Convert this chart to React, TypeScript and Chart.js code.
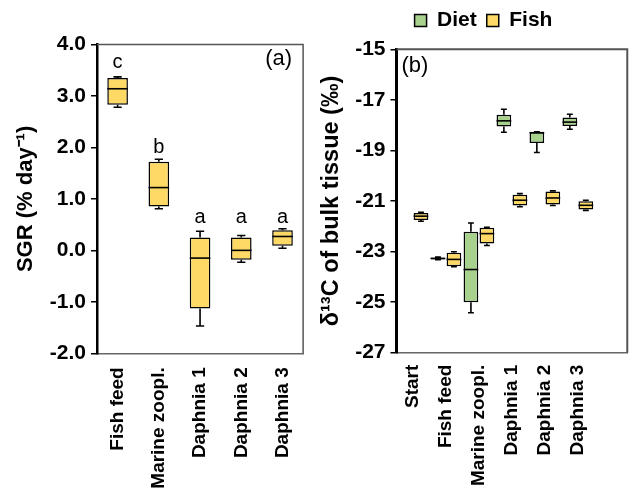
import React, { useEffect, useRef } from 'react';
import { Chart, registerables } from 'chart.js';

Chart.register(...registerables);

const FONT = "'Liberation Sans', Arial, Helvetica, sans-serif";
Chart.defaults.font.family = FONT;
Chart.defaults.color = '#000';

const FISH_COLOR = '#FFD966';
const DIET_COLOR = '#A9D18E';

// ---------- Panel (a): SGR ----------
const sgrCategories = ['Fish feed', 'Marine zoopl.', 'Daphnia 1', 'Daphnia 2', 'Daphnia 3'];
const sgrMin = [2.78, 0.81, -1.47, -0.23, 0.04];
const sgrQ1 = [2.83, 0.85, -1.13, -0.18, 0.09];
const sgrMedian = [3.14, 1.22, -0.15, 0.0, 0.27];
const sgrQ3 = [3.35, 1.72, 0.25, 0.25, 0.39];
const sgrMax = [3.37, 1.77, 0.37, 0.29, 0.42];
const sgrLetters = ['c', 'b', 'a', 'a', 'a'];
const sgrLetterY = [3.66, 2.0, 0.63, 0.63, 0.63];
const sgrTicks = [-2, -1, 0, 1, 2, 3, 4];

// ---------- Panel (b): d13C ----------
const d13cCategories = ['Start', 'Fish feed', 'Marine zoopl.', 'Daphnia 1', 'Daphnia 2', 'Daphnia 3'];
const dietMin = [null, -23.32, -25.42, -18.28, -19.08, -18.16];
const dietQ1 = [null, -23.31, -25.0, -18.05, -18.71, -18.03];
const dietMedian = [null, -23.27, -23.71, -17.83, -18.3, -17.88];
const dietQ3 = [null, -23.24, -22.22, -17.59, -18.28, -17.7];
const dietMax = [null, -23.22, -21.87, -17.37, -18.26, -17.57];
const fishMin = [-21.8, -23.6, -22.76, -21.23, -21.18, -21.37];
const fishQ1 = [-21.75, -23.58, -22.68, -21.18, -21.14, -21.34];
const fishMedian = [-21.6, -23.31, -22.29, -20.97, -20.88, -21.17];
const fishQ3 = [-21.47, -23.05, -22.06, -20.75, -20.62, -21.01];
const fishMax = [-21.45, -23.01, -22.04, -20.71, -20.6, -20.97];
const d13cTicks = [-27, -25, -23, -21, -19, -17, -15];

const boxPlugin = {
  id: 'boxWhiskers',
  afterDatasetsDraw(chart: any) {
    const ctx = chart.ctx;
    const ys = chart.scales.y;
    chart.data.datasets.forEach((ds: any, di: number) => {
      const meta = chart.getDatasetMeta(di);
      const st = ds.stats;
      if (!st) return;
      meta.data.forEach((el: any, i: number) => {
        if (ds.data[i] == null) return;
        const x = el.x;
        const half = el.width / 2;
        const cap = el.width * 0.2;
        const pMin = ys.getPixelForValue(st.min[i]);
        const pQ1 = ys.getPixelForValue(st.q1[i]);
        const pMed = ys.getPixelForValue(st.med[i]);
        const pQ3 = ys.getPixelForValue(st.q3[i]);
        const pMax = ys.getPixelForValue(st.max[i]);
        ctx.save();
        ctx.strokeStyle = '#000';
        ctx.lineWidth = 1.6;
        ctx.beginPath();
        ctx.moveTo(x, pQ3);
        ctx.lineTo(x, pMax);
        ctx.moveTo(x - cap, pMax);
        ctx.lineTo(x + cap, pMax);
        ctx.moveTo(x, pQ1);
        ctx.lineTo(x, pMin);
        ctx.moveTo(x - cap, pMin);
        ctx.lineTo(x + cap, pMin);
        ctx.stroke();
        ctx.beginPath();
        ctx.moveTo(x - half, pMed);
        ctx.lineTo(x + half, pMed);
        ctx.stroke();
        ctx.restore();
      });
    });
  },
};

const framePlugin = {
  id: 'frame',
  afterDraw(chart: any, _args: any, opts: any) {
    const { ctx, chartArea } = chart;
    ctx.save();
    ctx.strokeStyle = opts.color || '#555';
    ctx.lineWidth = opts.width || 1.5;
    ctx.beginPath();
    ctx.moveTo(chartArea.left, chartArea.top);
    ctx.lineTo(chartArea.right, chartArea.top);
    ctx.lineTo(chartArea.right, chartArea.bottom);
    ctx.stroke();
    ctx.restore();
    if (opts.text) {
      ctx.save();
      ctx.font = `${opts.size || 22}px ${FONT}`;
      ctx.fillStyle = '#000';
      ctx.textBaseline = 'middle';
      ctx.textAlign = opts.align;
      const x = opts.align === 'right' ? chartArea.right + opts.dx : chartArea.left + opts.dx;
      ctx.fillText(opts.text, x, chartArea.top + opts.dy);
      ctx.restore();
    }
  },
};

const lettersPlugin = {
  id: 'letters',
  afterDatasetsDraw(chart: any, _args: any, opts: any) {
    if (!opts.labels) return;
    const ctx = chart.ctx;
    const ys = chart.scales.y;
    const meta = chart.getDatasetMeta(0);
    ctx.save();
    ctx.font = `20px ${FONT}`;
    ctx.fillStyle = '#000';
    ctx.textAlign = 'center';
    ctx.textBaseline = 'middle';
    meta.data.forEach((el: any, i: number) => {
      ctx.fillText(opts.labels[i], el.x, ys.getPixelForValue(opts.values[i]));
    });
    ctx.restore();
  },
};

function yAxis(
  min: number,
  max: number,
  ticks: number[],
  title: string,
  titleSize: number,
  width: number,
  titlePad: number,
  borderW: number,
  digits: number
) {
  return {
    min,
    max,
    afterBuildTicks: (s: any) => {
      s.ticks = ticks.map((v) => ({ value: v }));
    },
    ticks: {
      callback: (v: any) => Number(v).toFixed(digits),
      font: { size: 21, weight: 'bold' },
      color: '#000',
      padding: 5,
    },
    grid: { drawOnChartArea: false, drawTicks: true, tickLength: 6, color: '#000', lineWidth: 1.5 },
    border: { display: true, color: '#000', width: borderW },
    title: {
      display: true,
      text: title,
      font: { size: titleSize, weight: 'bold' },
      color: '#000',
      padding: { top: titlePad, bottom: 0 },
    },
    afterFit: (s: any) => {
      s.width = width;
    },
  };
}

function xAxis(height: number, pad: number) {
  return {
    grid: { display: false, drawTicks: false },
    border: { display: true, color: '#666', width: 1.5 },
    ticks: {
      font: { size: 19, weight: 'bold' },
      color: '#000',
      minRotation: 90,
      maxRotation: 90,
      autoSkip: false,
      padding: pad,
    },
    afterFit: (s: any) => {
      s.height = height;
    },
  };
}

function configA(): any {
  return {
    type: 'bar',
    data: {
      labels: sgrCategories,
      datasets: [
        {
          label: 'Fish',
          data: sgrCategories.map((_, i) => [sgrQ1[i], sgrQ3[i]]),
          stats: { min: sgrMin, q1: sgrQ1, med: sgrMedian, q3: sgrQ3, max: sgrMax },
          backgroundColor: FISH_COLOR,
          borderColor: '#000',
          borderWidth: 1.5,
          borderSkipped: false,
          barPercentage: 0.5,
          categoryPercentage: 1,
        },
      ],
    },
    options: {
      animation: false,
      responsive: false,
      devicePixelRatio: 1,
      events: [],
      layout: { padding: { top: 44.5, right: 7, left: 0, bottom: 0 } },
      plugins: {
        legend: { display: false },
        tooltip: { enabled: false },
        frame: { color: '#555', width: 1.5, text: '(a)', align: 'right', dx: -11, dy: 14.5, size: 22 },
        letters: { labels: sgrLetters, values: sgrLetterY },
      },
      scales: {
        x: xAxis(135.7, 14),
        y: yAxis(-2, 4, sgrTicks, 'SGR (% day\u207B\u00B9)', 22, 97, 13, 2.5, 1),
      },
    },
    plugins: [boxPlugin, framePlugin, lettersPlugin],
  };
}

function configB(): any {
  const labels = [...d13cCategories, ''];
  return {
    type: 'bar',
    data: {
      labels,
      datasets: [
        {
          label: 'Diet',
          data: d13cCategories.map((_, i) => (dietQ1[i] == null ? null : [dietQ1[i], dietQ3[i]])),
          stats: { min: dietMin, q1: dietQ1, med: dietMedian, q3: dietQ3, max: dietMax },
          backgroundColor: DIET_COLOR,
          borderColor: '#000',
          borderWidth: 1.5,
          borderSkipped: false,
          barPercentage: 0.92,
          categoryPercentage: 0.97,
        },
        {
          label: 'Fish',
          data: d13cCategories.map((_, i) => [fishQ1[i], fishQ3[i]]),
          stats: { min: fishMin, q1: fishQ1, med: fishMedian, q3: fishQ3, max: fishMax },
          backgroundColor: FISH_COLOR,
          borderColor: '#000',
          borderWidth: 1.5,
          borderSkipped: false,
          barPercentage: 0.92,
          categoryPercentage: 0.97,
        },
      ],
    },
    options: {
      animation: false,
      responsive: false,
      devicePixelRatio: 1,
      events: [],
      layout: { padding: { top: 0, right: 0, left: 0, bottom: 0 } },
      plugins: {
        legend: {
          display: true,
          position: 'top',
          labels: {
            boxWidth: 12,
            boxHeight: 12,
            padding: 10,
            font: { size: 21, weight: 'bold' },
            color: '#000',
          },
        },
        tooltip: { enabled: false },
        frame: { color: '#555', width: 2, text: '(b)', align: 'left', dx: 5, dy: 17, size: 22 },
      },
      scales: {
        x: xAxis(136.3, 12),
        xTop: {
          type: 'category',
          position: 'top',
          display: true,
          grid: { display: false, drawTicks: false },
          border: { display: false },
          ticks: { display: false },
          afterFit: (s: any) => {
            s.height = 8.3;
          },
        },
        y: yAxis(-27, -15, d13cTicks, '\u03B4\u00B9\u00B3C of bulk tissue (\u2030)', 23.5, 76.5, -3, 3, 0),
      },
    },
    plugins: [boxPlugin, framePlugin],
  };
}

export default function App() {
  const refA = useRef<HTMLCanvasElement>(null);
  const refB = useRef<HTMLCanvasElement>(null);
  useEffect(() => {
    const a = new Chart(refA.current as HTMLCanvasElement, configA());
    const b = new Chart(refB.current as HTMLCanvasElement, configB());
    return () => {
      a.destroy();
      b.destroy();
    };
  }, []);
  return (
    <div
      style={{
        position: 'fixed',
        left: 0,
        top: 0,
        width: 640,
        height: 489,
        overflow: 'hidden',
        background: '#fff',
      }}
    >
      <canvas
        ref={refA}
        width={320}
        height={489}
        style={{ position: 'absolute', left: 0, top: 0, width: 320, height: 489 }}
      />
      <canvas
        ref={refB}
        width={327}
        height={489}
        style={{ position: 'absolute', left: 320, top: 0, width: 327, height: 489 }}
      />
    </div>
  );
}
